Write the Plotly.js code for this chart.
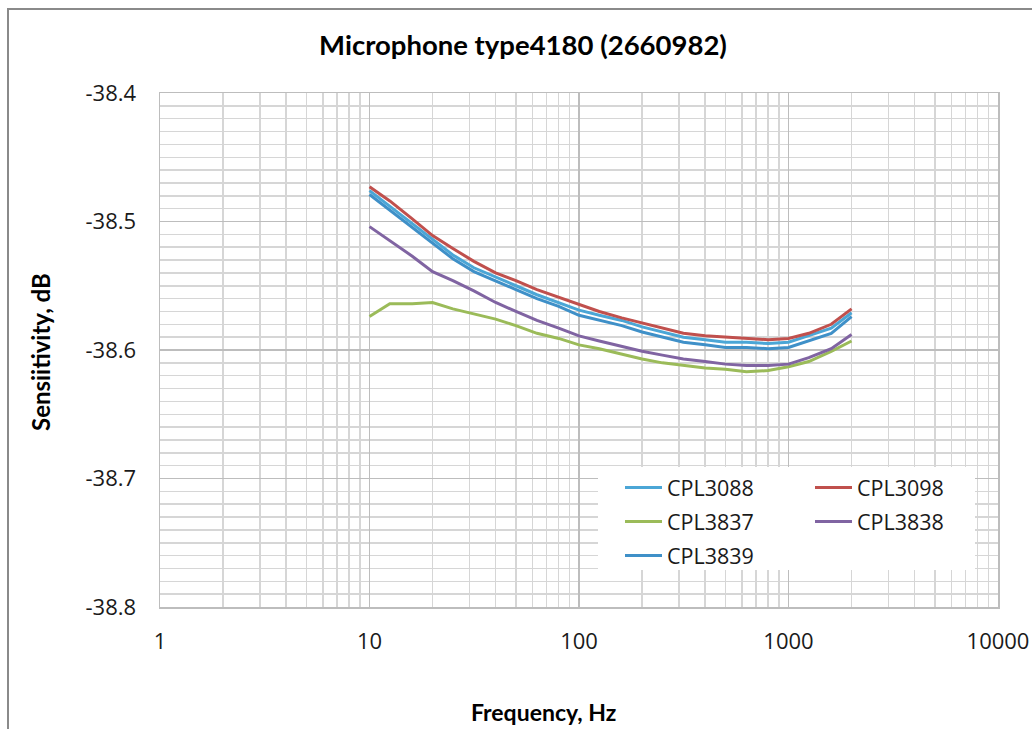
<!DOCTYPE html>
<html>
<head>
<meta charset="utf-8">
<script src="https://cdn.plot.ly/plotly-3.0.1.min.js"></script>
<style>
  html, body { margin: 0; padding: 0; background: #fff; }
  #frame { position: absolute; left: 7px; top: 8px; width: 1100px; height: 800px; border: 2px solid #8a8a8a; box-sizing: border-box; }
  #chart { position: absolute; left: 0; top: 0; width: 1032px; height: 729px; }
</style>
</head>
<body>
<div id="frame"></div>
<div id="chart"></div>
<script>
const freq = [10, 12.5, 16, 20, 25, 31.5, 40, 50, 63, 80, 100, 125, 160, 200, 250, 315, 400, 500, 630, 800, 1000, 1250, 1600, 2000];

const CPL3088 = [-38.476, -38.488, -38.502, -38.514, -38.526, -38.536, -38.543, -38.550, -38.557, -38.563, -38.569, -38.573, -38.577, -38.582, -38.586, -38.590, -38.592, -38.594, -38.594, -38.595, -38.594, -38.589, -38.583, -38.571];
const CPL3098 = [-38.473, -38.484, -38.498, -38.511, -38.521, -38.531, -38.540, -38.546, -38.553, -38.559, -38.565, -38.570, -38.575, -38.579, -38.583, -38.587, -38.589, -38.590, -38.591, -38.592, -38.591, -38.587, -38.580, -38.568];
const CPL3837 = [-38.574, -38.564, -38.564, -38.563, -38.568, -38.572, -38.576, -38.581, -38.587, -38.591, -38.596, -38.599, -38.603, -38.607, -38.610, -38.612, -38.614, -38.615, -38.617, -38.616, -38.613, -38.609, -38.601, -38.593];
const CPL3838 = [-38.504, -38.515, -38.527, -38.539, -38.546, -38.554, -38.563, -38.570, -38.577, -38.583, -38.589, -38.593, -38.597, -38.601, -38.604, -38.607, -38.609, -38.611, -38.612, -38.612, -38.611, -38.606, -38.599, -38.588];
const CPL3839 = [-38.479, -38.491, -38.505, -38.517, -38.529, -38.539, -38.546, -38.553, -38.560, -38.566, -38.573, -38.577, -38.581, -38.586, -38.590, -38.594, -38.596, -38.598, -38.598, -38.599, -38.598, -38.593, -38.587, -38.574];

const seriesNames = ["CPL3088", "CPL3098", "CPL3837", "CPL3838", "CPL3839"];
const seriesValues = [CPL3088, CPL3098, CPL3837, CPL3838, CPL3839];
const seriesColors = ["#4BA6D6", "#C0504D", "#9BBB59", "#8064A2", "#3F90C8"];
const seriesLegend = ["legend", "legend2", "legend", "legend2", "legend"];

const xTickVals = [1, 10, 100, 1000, 10000];
const xTickText = ["1", "10", "100", "1000", "10000"];
const yTickVals = [-38.8, -38.7, -38.6, -38.5, -38.4];
const yTickText = ["-38.8", "-38.7", "-38.6", "-38.5", "-38.4"];
const xMinorVals = [];
for (let d = 1; d <= 1000; d *= 10) { for (let k = 2; k <= 9; k++) xMinorVals.push(d * k); }

const titleText = "Microphone type4180 (2660982)";
const xTitle = "Frequency, Hz";
const yTitle = "Sensiitivity, dB";

const FONT = "Lato, 'Open Sans', sans-serif";
const FONT2 = "'Open Sans', sans-serif";

const traces = seriesNames.map((n, i) => ({
  type: "scatter", mode: "lines", name: n,
  x: freq, y: seriesValues[i],
  legend: seriesLegend[i], legendgroup: "g" + i,
  line: { color: seriesColors[i], width: 3 }
}));

const W = 1032, H = 729, L = 160, R = 34, T = 93, B = 122;
const pw = W - L - R, ph = H - T - B;
const px = v => (v - L) / pw;
const py = v => 1 - (v - T) / ph;

const legendCommon = {
  orientation: "v", yanchor: "top", xanchor: "left",
  bgcolor: "rgba(255,255,255,0)", borderwidth: 0,
  traceorder: "grouped", tracegroupgap: 3,
  font: { family: FONT2, size: 21.5, color: "#1a1a1a" },
  itemwidth: 37
};

const layout = {
  width: W, height: H,
  margin: { l: L, r: R, t: T, b: B },
  paper_bgcolor: "rgba(0,0,0,0)",
  plot_bgcolor: "#ffffff",
  font: { family: FONT, color: "#1a1a1a", size: 22 },
  showlegend: true,
  title: { text: "<b>" + titleText + "</b>", x: 523 / W, xanchor: "center", y: 1 - 45 / H, yanchor: "middle", font: { family: FONT, size: 27.5, color: "#000" } },
  xaxis: {
    type: "log", range: [0, 4],
    tickmode: "array", tickvals: xTickVals, ticktext: xTickText,
    ticks: "", ticklabelstandoff: 14,
    showgrid: true, gridcolor: "#bdbdbd", gridwidth: 1.5,
    minor: { tickmode: "array", tickvals: xMinorVals, showgrid: true, gridcolor: "#d6d6d6", gridwidth: 1.5, ticks: "" },
    showline: true, linecolor: "#bdbdbd", linewidth: 1.5, mirror: true,
    zeroline: false,
    tickfont: { family: FONT2, size: 22, color: "#1a1a1a" }
  },
  yaxis: {
    range: [-38.8, -38.4],
    tickmode: "array", tickvals: yTickVals, ticktext: yTickText,
    ticks: "", ticklabelstandoff: 18,
    showgrid: true, gridcolor: "#bdbdbd", gridwidth: 1.5,
    minor: { dtick: 0.01, showgrid: true, gridcolor: "#d6d6d6", gridwidth: 1.5, ticks: "" },
    showline: true, linecolor: "#bdbdbd", linewidth: 1.5, mirror: true,
    zeroline: false,
    tickfont: { family: FONT2, size: 22, color: "#1a1a1a" }
  },
  shapes: [
    { type: "rect", xref: "paper", yref: "paper", layer: "above",
      x0: px(598), x1: px(975), y0: py(570), y1: py(467),
      fillcolor: "#ffffff", line: { width: 0 } }
  ],
  legend: Object.assign({}, legendCommon, { x: px(620), y: py(467) }),
  legend2: Object.assign({}, legendCommon, { x: px(810), y: py(467) }),
  annotations: [
    { xref: "paper", yref: "paper", x: px(543), y: py(712), xanchor: "center", yanchor: "middle",
      text: "<b>" + xTitle + "</b>", showarrow: false, font: { family: FONT, size: 23, color: "#000" } },
    { xref: "paper", yref: "paper", x: px(40), y: py(352), xanchor: "center", yanchor: "middle", textangle: -90,
      text: "<b>" + yTitle + "</b>", showarrow: false, font: { family: FONT, size: 24, color: "#000" } }
  ]
};

Plotly.newPlot("chart", traces, layout, { displayModeBar: false, staticPlot: true });
</script>
</body>
</html>
